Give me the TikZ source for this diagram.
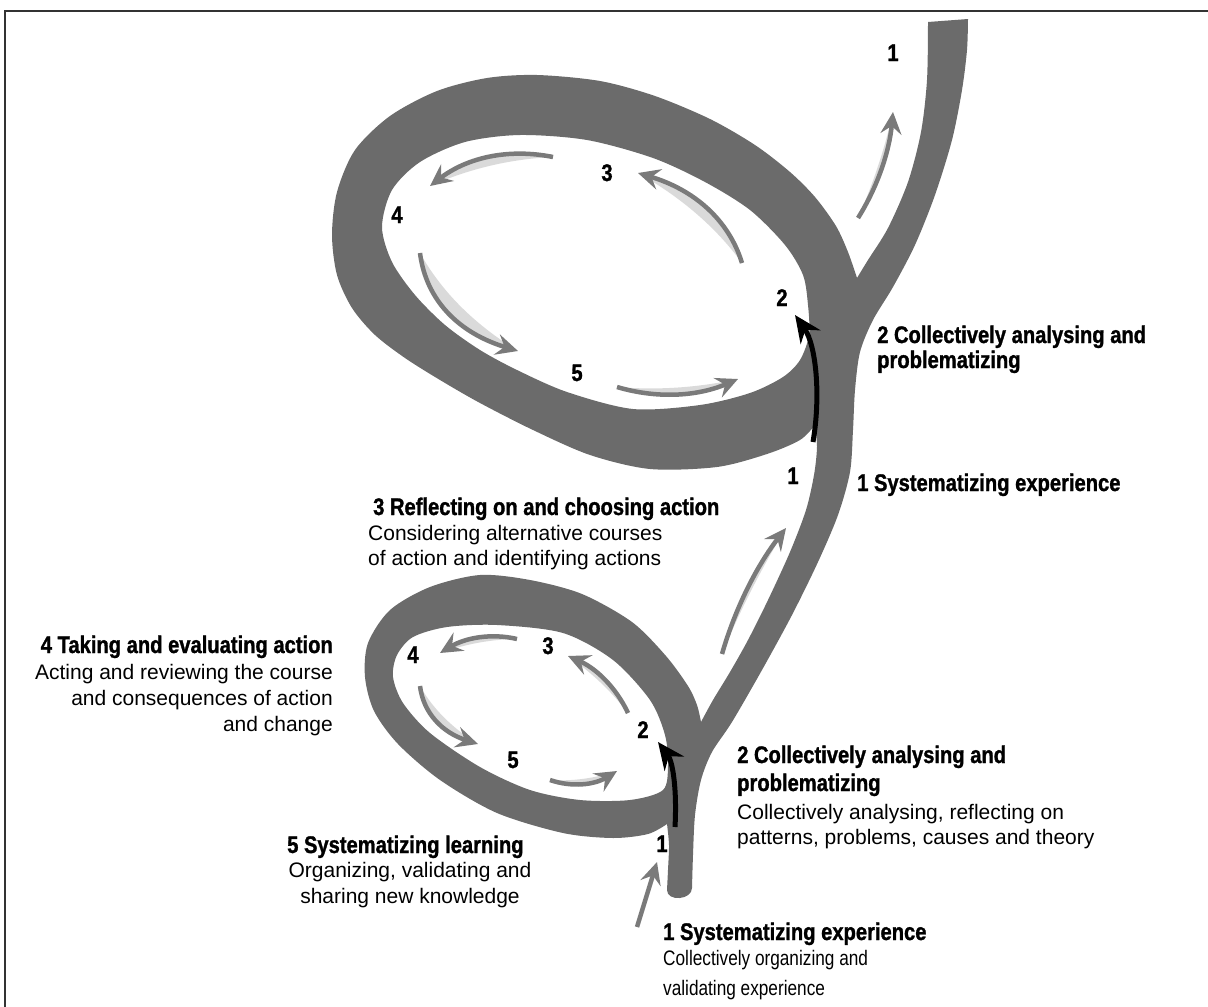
\documentclass[tikz,border=0pt]{standalone}
\usepackage{fontspec}
\setmainfont{Liberation Sans}
\newfontfamily\hfont[FakeStretch=0.84, BoldFeatures={FakeBold=1.2}]{Liberation Sans}
\newfontfamily\cfont[FakeStretch=0.82]{Liberation Sans}
\usetikzlibrary{arrows.meta,calc}
\definecolor{rib}{HTML}{6B6B6B}
\definecolor{agray}{HTML}{7A7A7A}
\definecolor{shd}{HTML}{DADADA}
\tikzset{
  head/.style={font=\hfont\bfseries\fontsize{24}{28}\selectfont, inner sep=0pt},
  num/.style={font=\hfont\bfseries\fontsize{24}{28}\selectfont, inner sep=0pt, anchor=base},
  body/.style={font=\fontsize{21}{25}\selectfont, inner sep=0pt},
  cbody/.style={font=\cfont\fontsize{21}{28}\selectfont, inner sep=0pt},
  garrow/.style={draw=agray, line width=4.5pt, -{Stealth[length=22pt,width=21pt,inset=8pt]}},
  barrow/.style={draw=black, line width=5pt, -{Stealth[length=27pt,width=24pt,inset=9pt]}},
  frameline/.style={draw=black!80, line width=2pt},
}
% #1 tail, #2 head, #3 #4 sagitta vector
\newcommand\mkarrow[4]{%
  \fill[shd] (#1) .. controls ($(#1)!0.333!(#2)+(1.333*#3,1.333*#4)$) and ($(#1)!0.667!(#2)+(1.333*#3,1.333*#4)$) .. (#2)
     .. controls ($(#1)!0.667!(#2)+(0.55*#3,0.55*#4)$) and ($(#1)!0.333!(#2)+(0.55*#3,0.55*#4)$) .. (#1) -- cycle;
  \draw[garrow] (#1) .. controls ($(#1)!0.333!(#2)+(1.333*#3,1.333*#4)$) and ($(#1)!0.667!(#2)+(1.333*#3,1.333*#4)$) .. (#2);
}
\begin{document}
\begin{tikzpicture}[x=1pt,y=-1pt]
\useasboundingbox (0,0) rectangle (1208,1007);
\draw[frameline] (4.5,1007) -- (4.5,10.5) -- (1208,10.5);

% ribbon
\fill[rib, even odd rule]
  (667,890) .. controls (667,902) and (692,900) .. (692,888)
  -- plot[smooth] coordinates {(692,888) (693,855) (695,815) (701,780) (712,752) (732,722) (762,670) (792,615) (818,562) (838,515) (850,472) (853,430) (855,390) (860,352) (873,320) (893,287) (915,245) (935,195) (952,140) (962,90) (967,50) (968,19)}
  -- (928,22)
  -- plot[smooth] coordinates {(928,22) (927,80) (921,132) (908,182) (888,228) (868,260) (857,278)}
  -- plot[smooth] coordinates {(857,278) (848,252) (836,226) (815,197) (790,172) (755,145) (710,119) (655,96) (600,81) (537,75) (487,78) (437,91) (390,116) (355,150) (337,192) (332,235) (337,275) (352,308) (375,335) (405,358) (440,380) (480,403) (533,430) (590,455) (650,469) (717,467) (767,454) (800,440) (815,425)}
  -- plot[smooth] coordinates {(815,425) (817,447) (814,475) (806,510) (790,552) (768,600) (748,640) (730,672) (713,700) (701,722)}
  -- plot[smooth] coordinates {(701,722) (697,705) (688,686) (666,656) (632,622) (582,594) (530,580) (480,575) (430,587) (390,610) (368,643) (365,677) (374,711) (398,744) (440,780) (497,813) (563,833) (613,838) (648,834) (667,824)}
  -- plot[smooth] coordinates {(667,824) (669,845) (668,870) (667,890)}
  -- cycle
  plot[smooth cycle] coordinates {(520,135) (587,140) (653,158) (705,182) (750,210) (785,245) (803,275) (808,305) (809,335) (800,360) (783,377) (750,393) (700,405) (633,409) (567,392) (517,370) (480,350) (445,325) (415,295) (392,262) (382,227) (392,190) (420,162) (465,142)}
  plot[smooth cycle] coordinates {(497,625) (563,633) (613,660) (650,700) (665,735) (668,765) (663,790) (630,800) (580,800) (530,790) (480,767) (430,733) (403,703) (393,677) (397,655) (413,637) (447,627)};

% arrow end points
\coordinate (a1t) at (553,157); \coordinate (a1h) at (430,186);
\coordinate (a2t) at (420,253); \coordinate (a2h) at (518,351);
\coordinate (a3t) at (617,387); \coordinate (a3h) at (738,379);
\coordinate (a4t) at (742,263); \coordinate (a4h) at (638,173);
\coordinate (a5t) at (858,218); \coordinate (a5h) at (893,112);
\coordinate (a6t) at (722,654); \coordinate (a6h) at (786,528);
\coordinate (b1t) at (517,639); \coordinate (b1h) at (440,653);
\coordinate (b2t) at (420,686); \coordinate (b2h) at (478,744);
\coordinate (b3t) at (550,780); \coordinate (b3h) at (617,771);
\coordinate (b4t) at (628,713); \coordinate (b4h) at (568,656);
\coordinate (b5t) at (637,927); \coordinate (b5h) at (657,862);
\coordinate (k1t) at (813,442); \coordinate (k1h) at (795,315);
\coordinate (k2t) at (675,827); \coordinate (k2h) at (658,742);

\mkarrow{a1t}{a1h}{-3}{-14}
\mkarrow{a2t}{a2h}{-20}{11}
\mkarrow{a3t}{a3h}{0}{11}
\mkarrow{a4t}{a4h}{16}{-10}
\mkarrow{a5t}{a5h}{6}{3}
\mkarrow{a6t}{a6h}{-6}{-3}
\mkarrow{b1t}{b1h}{0}{-8}
\mkarrow{b2t}{b2h}{-12}{6}
\mkarrow{b3t}{b3h}{0}{8}
\mkarrow{b4t}{b4h}{6}{-5}
\draw[garrow] (b5t) -- (b5h);
\draw[barrow] (k1t) .. controls (821,395) and (816,345) .. (k1h);
\draw[barrow] (k2t) .. controls (677,790) and (673,762) .. (k2h);

% numbers
\node[num] (n1top) at (893,61) {1};
\node[num] (nu3) at (607,181) {3};
\node[num] (nu4) at (397,223) {4};
\node[num] (nu5) at (577,381) {5};
\node[num] (nu2) at (782,306) {2};
\node[num] (nm1) at (793,484) {1};
\node[num] (nl3) at (548,654) {3};
\node[num] (nl4) at (413,663) {4};
\node[num] (nl5) at (513,768) {5};
\node[num] (nl2) at (643,738) {2};
\node[num] (nl1) at (662,852) {1};

% labels
\node[head, anchor=base west] (h2a) at (877,343) {2 Collectively analysing and};
\node[head, anchor=base west] (h2b) at (877,368) {problematizing};
\node[head, anchor=base west] (m1) at (857,491) {1 Systematizing experience};
\node[head, anchor=base west] (r3) at (373,515) {3 Reflecting on and choosing action};
\node[body, anchor=base west] (r3a) at (368,540) {Considering alternative courses};
\node[body, anchor=base west] (r3b) at (368,565) {of action and identifying actions};
\node[head, anchor=base east] (t4) at (333,653) {4 Taking and evaluating action};
\node[body, anchor=base east] (t4a) at (333,679) {Acting and reviewing the course};
\node[body, anchor=base east] (t4b) at (333,705) {and consequences of action};
\node[body, anchor=base east] (t4c) at (333,731) {and change};
\node[head, anchor=base west] (s5) at (287,853) {5 Systematizing learning};
\node[body, anchor=base] (s5a) at (410,877) {Organizing, validating and};
\node[body, anchor=base] (s5b) at (410,903) {sharing new knowledge};
\node[head, anchor=base west] (c2) at (737,763) {2 Collectively analysing and};
\node[head, anchor=base west] (c2b) at (737,791) {problematizing};
\node[body, anchor=base west] (c2c) at (737,819) {Collectively analysing, reflecting on};
\node[body, anchor=base west] (c2d) at (737,844) {patterns, problems, causes and theory};
\node[head, anchor=base west] (b1) at (663,940) {1 Systematizing experience};
\node[cbody, anchor=base west] (b1a) at (663,965) {Collectively organizing and};
\node[cbody, anchor=base west] (b1b) at (663,995) {validating experience};
\end{tikzpicture}
\end{document}
